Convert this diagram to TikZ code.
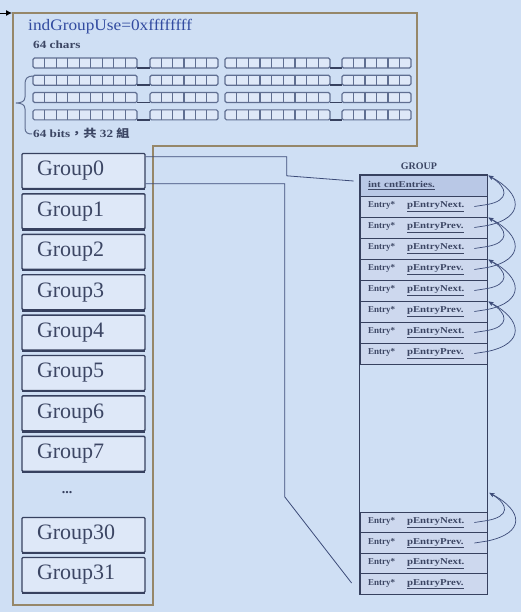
\documentclass[tikz,border=0pt]{standalone}
\usepackage{fontspec}
\setmainfont{Liberation Serif}
\newfontfamily\cjkfont{Noto Sans CJK TC}
\usetikzlibrary{calc,arrows.meta}
\definecolor{bg}{RGB}{207,223,244}
\definecolor{outlinetan}{RGB}{150,135,105}
\definecolor{navy}{RGB}{55,65,95}
\definecolor{boxfill}{RGB}{222,232,248}
\definecolor{rowfill}{RGB}{205,216,238}
\definecolor{hdrfill}{RGB}{185,200,230}
\definecolor{bluetext}{RGB}{50,75,160}
\definecolor{gridcol}{RGB}{95,110,145}
\definecolor{txtcol}{RGB}{60,70,100}
\definecolor{linecol}{RGB}{60,75,120}
\tikzset{
  groupbox/.style={draw=navy, line width=1.4pt, fill=boxfill, rounded corners=1pt,
    inner xsep=15pt, inner ysep=0pt, text width=93pt, align=left, minimum height=35pt,
    font=\fontsize{22}{22}\selectfont, text=txtcol},
  rowbox/.style={draw=navy, line width=0.8pt, fill=rowfill, minimum width=127pt,
    minimum height=21pt, inner xsep=8pt, inner ysep=0pt, text width=111pt, align=left,
    font=\bfseries\fontsize{9}{9}\selectfont, text=txtcol},
  conn/.style={draw=linecol, line width=0.8pt},
  loopcurve/.style={draw=linecol, line width=0.7pt, -{Stealth[length=5pt,width=4pt]}},
  gridbox/.style={draw=gridcol, line width=1.2pt, fill=boxfill, rounded corners=1.5pt}
}
\newcommand{\entryrow}[1]{\makebox[39pt][l]{Entry*}\scalebox{1.2}[1]{\underline{#1}}}
\begin{document}
\begin{tikzpicture}[x=1pt,y=-1pt]
\fill[bg] (0,0) rectangle (521,612);
\useasboundingbox (0,0) rectangle (521,612);

% L-shaped tan outline
\draw[outlinetan, line width=2.5pt] (13,13) -- (417,13) -- (417,146) -- (153,146) -- (153,605) -- (13,605) -- cycle;
\coordinate (arrs) at (0,13);
\coordinate (arre) at (12,13);
\draw[-{Latex[length=6pt,width=6pt]}, black, line width=0.8pt] (arrs) -- (arre);

% texts in top box
\node[anchor=base west, inner sep=0, text=bluetext, font=\fontsize{16}{16}\selectfont] (title) at (28,31) {\scalebox{1.08}[1]{indGroupUse=0xffffffff}};
\node[anchor=base west, inner sep=0, text=txtcol, font=\bfseries\fontsize{11}{11}\selectfont] (chars) at (33,49) {\scalebox{1.2}[1]{64 chars}};
\node[anchor=base west, inner sep=0, text=txtcol, font=\bfseries\fontsize{11}{11}\selectfont] (bits) at (33,138) {\scalebox{1.2}[1]{64 bits{\cjkfont ，共} 32 {\cjkfont 組}}};

% grid of bits
\foreach \r in {0,1,2,3} {
  \pgfmathsetmacro{\yc}{63+17.3*\r}
  \foreach \xa/\xb/\n in {33/137/9, 150/218/6, 225/330/9, 342/411/6} {
    \draw[gridbox] (\xa,\yc-5) rectangle (\xb,\yc+5);
    \pgfmathsetmacro{\cw}{(\xb-\xa)/\n}
    \pgfmathtruncatemacro{\nm}{\n-1}
    \foreach \k in {1,...,\nm} {
      \draw[gridcol, line width=1.1pt] (\xa+\k*\cw,\yc-5) -- (\xa+\k*\cw,\yc+5);
    }
  }
  \draw[navy, line width=1.6pt] (137,\yc+5) -- (150,\yc+5);
  \draw[navy, line width=1.6pt] (330,\yc+5) -- (342,\yc+5);
}

% brace
\draw[gridcol, line width=1pt] (33,76) .. controls (27,76) and (25,79) .. (25,84) -- (25,97)
  .. controls (25,101) and (22,103) .. (16,103) .. controls (22,103) and (25,105) .. (25,109)
  -- (25,128) .. controls (25,133) and (28,134) .. (32,134);

% group boxes
\foreach \k in {0,...,7} {
  \node[groupbox] (g\k) at (83.5,171+40.4*\k) {Group\k};
}
\node[groupbox] (g30) at (83.5,535) {Group30};
\node[groupbox] (g31) at (83.5,575) {Group31};
\foreach \g in {0,1,2,3,4,5,6,7,30,31} {
  \draw[navy, line width=2.2pt] ($(g\g.south west)+(1,0)$) -- ($(g\g.south east)+(-1,0)$);
}
\node[text=navy, font=\bfseries\fontsize{14}{14}\selectfont] (dots) at (67,493) {...};

% GROUP table
\node[font=\bfseries\fontsize{10}{10}\selectfont, text=txtcol] (gtitle) at (419,166) {GROUP};
\node[rowbox, fill=hdrfill] (hdr) at (423.5,185.5) {\scalebox{1.2}[1]{\underline{int\ cntEntries.}}};
\foreach \i/\t in {1/pEntryNext., 2/pEntryPrev., 3/pEntryNext., 4/pEntryPrev., 5/pEntryNext., 6/pEntryPrev., 7/pEntryNext., 8/pEntryPrev.} {
  \node[rowbox] (e\i) at (423.5,185.5+21*\i) {\entryrow{\t}};
}
\node[rowbox, minimum height=20.5pt] (b1) at (423.5,522.5) {\entryrow{pEntryNext.}};
\node[rowbox, minimum height=20.5pt] (b2) at (423.5,543) {\entryrow{pEntryPrev.}};
\node[rowbox, minimum height=20.5pt] (b3) at (423.5,563.5) {\entryrow{pEntryNext.}};
\node[rowbox, minimum height=20.5pt] (b4) at (423.5,584) {\entryrow{pEntryPrev.}};
\draw[navy, line width=1.2pt] (hdr.north west) rectangle (b4.south east);

% connectors from Group0
\draw[conn] ($(g0.north east)+(0,4)$) -- ++(141,0) -- ++(0,19) -- ($(hdr.west)+(-6,-4.5)$);
\draw[conn] ($(g0.north east)+(0,31)$) -- ++(139,0) -- ++(0,313) -- ($(b4.west)+(-8,-1)$);

% loop curves
\coordinate (c0) at (hdr.north east);
\coordinate (c1) at (e2.north east);
\coordinate (c2) at (e4.north east);
\coordinate (c3) at (e6.north east);
\coordinate (c4) at ($(b1.north east)+(1,-20)$);
\foreach \c/\n/\p in {c0/e1/e2, c1/e3/e4, c2/e5/e6, c3/e7/e8, c4/b1/b2} {
  \draw[loopcurve] ($(\n.east)+(-13,0)$) -- ($(\n.east)+(0,-2)$)
     .. controls +(22,-4) and +(20,12) .. ($(\c)+(1,1)$);
  \draw[loopcurve] ($(\p.east)+(-13,0)$) -- ($(\p.east)+(0,-2)$)
     .. controls +(38,-8) and +(34,18) .. ($(\c)+(1,1)$);
}
\end{tikzpicture}
\end{document}
